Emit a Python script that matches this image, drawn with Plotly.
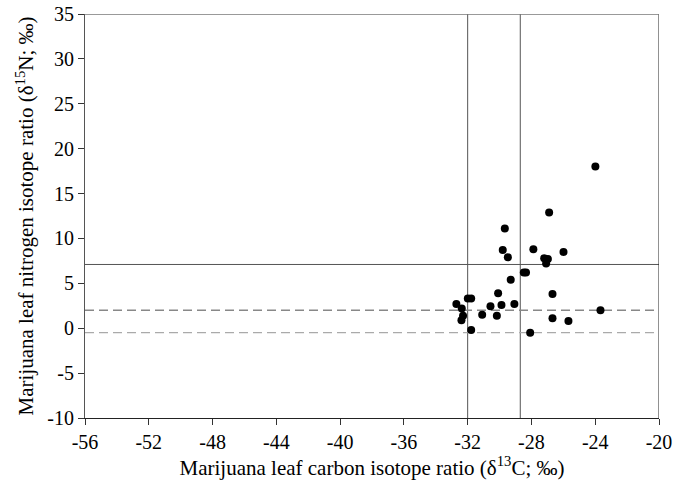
import plotly.graph_objects as go

# Data
carbon = [-23.99, -26.89, -29.67, -29.80, -29.48, -27.88, -25.99, -27.20, -26.97, -27.08,
          -28.48, -28.34, -29.30, -26.68, -30.09, -31.99, -31.78, -32.71, -32.37, -30.57,
          -29.88, -29.07, -23.67, -32.29, -32.39, -31.09, -30.17, -26.68, -25.68, -31.78,
          -28.08]
nitrogen = [18.0, 12.9, 11.1, 8.7, 7.9, 8.8, 8.5, 7.8, 7.7, 7.2,
            6.2, 6.2, 5.4, 3.8, 3.9, 3.3, 3.3, 2.7, 2.2, 2.45,
            2.6, 2.7, 2.0, 1.4, 0.9, 1.5, 1.4, 1.1, 0.8, -0.2,
            -0.5]

x_range = [-56, -20]
y_range = [-10, 35]
x_ticks = [-56, -52, -48, -44, -40, -36, -32, -28, -24, -20]
y_ticks = [-10, -5, 0, 5, 10, 15, 20, 25, 30, 35]
x_ticklabels = [str(v) for v in x_ticks]
y_ticklabels = [str(v) for v in y_ticks]

vlines = [-32.0, -28.7]
hline_solid = 7.1
hline_dash_dark = 2.0
hline_dash_light = -0.5

fig = go.Figure()
fig.add_trace(go.Scatter(
    x=carbon, y=nitrogen, mode="markers",
    marker=dict(color="black", size=8, line=dict(width=0)),
    showlegend=False, cliponaxis=False))

shapes = []
for v in vlines:
    shapes.append(dict(type="line", xref="x", yref="y", x0=v, x1=v, y0=y_range[0], y1=y_range[1],
                       line=dict(color="#555555", width=1), layer="below"))
shapes.append(dict(type="line", xref="x", yref="y", x0=x_range[0], x1=x_range[1],
                   y0=hline_solid, y1=hline_solid, line=dict(color="#555555", width=1), layer="below"))
shapes.append(dict(type="line", xref="x", yref="y", x0=x_range[0], x1=x_range[1],
                   y0=hline_dash_dark, y1=hline_dash_dark,
                   line=dict(color="#888888", width=1.3, dash="9px,5px"), layer="below"))
shapes.append(dict(type="line", xref="x", yref="y", x0=x_range[0], x1=x_range[1],
                   y0=hline_dash_light, y1=hline_dash_light,
                   line=dict(color="#aaaaaa", width=1.3, dash="9px,5px"), layer="below"))
# right and top frame
shapes.append(dict(type="line", xref="x", yref="paper", x0=x_range[1], x1=x_range[1], y0=0, y1=1,
                   line=dict(color="#222222", width=1)))
shapes.append(dict(type="line", xref="paper", yref="y", x0=0, x1=1, y0=y_range[1], y1=y_range[1],
                   line=dict(color="#777777", width=1.5)))

font_family = "Liberation Serif, Times New Roman, serif"
fig.update_layout(
    width=688, height=489,
    margin=dict(l=85, r=29, t=14, b=71, autoexpand=False),
    paper_bgcolor="white", plot_bgcolor="white",
    font=dict(family=font_family, color="black", size=20),
    shapes=shapes,
    xaxis=dict(range=x_range, tickvals=x_ticks, ticktext=x_ticklabels, ticks="outside", ticklen=6,
               tickcolor="#333", automargin=False,
               showgrid=False, zeroline=False, showline=True, linecolor="#222", linewidth=1,
               tickfont=dict(size=20, family=font_family),
               title=dict(text="Marijuana leaf carbon isotope ratio (δ<sup>13</sup>C; ‰)",
                          font=dict(size=21, family=font_family), standoff=7)),
    yaxis=dict(range=y_range, tickvals=y_ticks, ticktext=y_ticklabels, ticks="outside", ticklen=6,
               tickcolor="#333", automargin=False,
               showgrid=False, zeroline=False, showline=True, linecolor="#555", linewidth=1,
               tickfont=dict(size=20, family=font_family),
               title=dict(text="Marijuana leaf nitrogen isotope ratio (δ<sup>15</sup>N; ‰)",
                          font=dict(size=21, family=font_family), standoff=7)),
)

fig.write_html("out.html", config={"displayModeBar": False},
               post_script="document.body.style.margin='0';")
